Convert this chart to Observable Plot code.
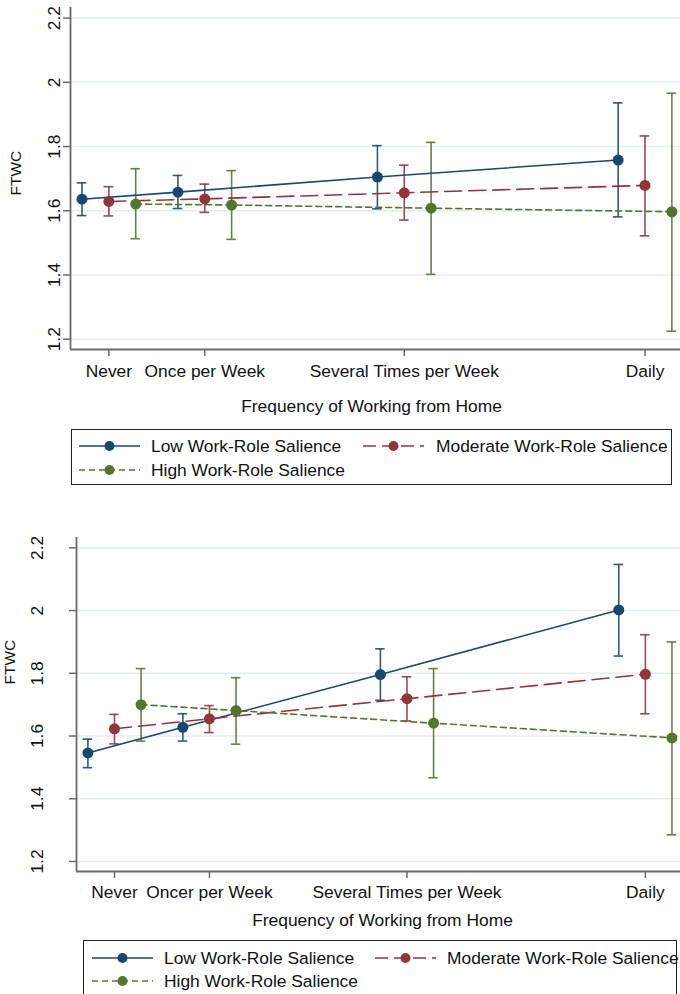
<!DOCTYPE html>
<html><head><meta charset="utf-8">
<script src="https://cdn.jsdelivr.net/npm/d3@7"></script>
<script src="https://cdn.jsdelivr.net/npm/@observablehq/plot@0.6"></script>
<style>
body{margin:0;background:#fff;font-family:"Liberation Sans",Arial,sans-serif;}
#wrap{position:relative;width:680px;height:994px;overflow:hidden;background:#fff;}
.panel{position:absolute;left:0;}
.legend{position:absolute;border:1px solid #222;box-sizing:border-box;font-size:17.4px;color:#111;}
.item{position:absolute;display:flex;align-items:center;white-space:nowrap;height:24px;}
</style></head>
<body><div id="wrap"></div>
<script>
// ---- data ----
const categoriesTop = ["Never", "Once per Week", "Several Times per Week", "Daily"];
const categoriesBottom = ["Never", "Oncer per Week", "Several Times per Week", "Daily"];
const categoryPos = [0, 1, 3.08, 5.59];
const seriesNames = ["Low Work-Role Salience", "Moderate Work-Role Salience", "High Work-Role Salience"];
const yTicks = [1.2, 1.4, 1.6, 1.8, 2, 2.2];
const xTitle = "Frequency of Working from Home";
const yTitle = "FTWC";

// Panel 1 (top)
const lowTop = [1.636, 1.658, 1.705, 1.758];
const lowTopLo = [1.585, 1.607, 1.606, 1.581];
const lowTopHi = [1.687, 1.710, 1.803, 1.936];
const modTop = [1.629, 1.637, 1.656, 1.679];
const modTopLo = [1.584, 1.595, 1.571, 1.522];
const modTopHi = [1.675, 1.683, 1.742, 1.833];
const highTop = [1.621, 1.618, 1.608, 1.597];
const highTopLo = [1.513, 1.511, 1.402, 1.225];
const highTopHi = [1.731, 1.725, 1.813, 1.966];

// Panel 2 (bottom)
const lowBot = [1.546, 1.628, 1.796, 2.002];
const lowBotLo = [1.499, 1.584, 1.714, 1.855];
const lowBotHi = [1.590, 1.671, 1.878, 2.147];
const modBot = [1.623, 1.655, 1.719, 1.797];
const modBotLo = [1.575, 1.611, 1.648, 1.671];
const modBotHi = [1.669, 1.697, 1.789, 1.923];
const highBot = [1.700, 1.681, 1.641, 1.594];
const highBotLo = [1.584, 1.574, 1.467, 1.285];
const highBotHi = [1.815, 1.786, 1.815, 1.900];

// ---- styles ----
const colors = ["#1a476f", "#90353b", "#55752f"];
const dashes = [null, "17,7", "6,4"];
const offsets = [-0.28, 0, 0.28];
const capHalf = 0.05;
const xDomain = [-0.4, 5.96];
const yDomain = [1.168, 2.233];
const gridColor = "#e4edf0";
const axisColor = "#6a6a6a";
const font = '"Liberation Sans", Arial, sans-serif';

function buildRows(vals, los, his) {
  return vals.map((v, si) => v.map((y, i) => ({
    s: si, x: categoryPos[i] + offsets[si], y, lo: los[si][i], hi: his[si][i]
  })));
}

function panel(o) {
  const rows = buildRows(o.vals, o.los, o.his);
  const labelOf = d => o.labels[categoryPos.indexOf(d)];
  const marks = [
    Plot.ruleY(yTicks, {stroke: gridColor, strokeWidth: 1.6}),
    Plot.axisX({ticks: categoryPos, tickFormat: labelOf, tickSize: 7, tickPadding: o.xPad,
      stroke: axisColor, strokeWidth: 1.5, label: null, fill: "#111"}),
    Plot.axisY({ticks: yTicks, tickFormat: d => String(d), tickRotate: -90, tickSize: 7,
      tickPadding: o.yPad, stroke: axisColor, strokeWidth: 1.5, label: null, fill: "#111"}),
    Plot.ruleX([xDomain[0]], {stroke: axisColor, strokeWidth: 1.8}),
    Plot.ruleY([yDomain[0]], {stroke: axisColor, strokeWidth: 1.8}),
    Plot.text([yTitle], {frameAnchor: "left", dx: o.ytDx, dy: o.ytDy, rotate: -90, fontSize: 15.5, fill: "#111"}),
    Plot.text([xTitle], {frameAnchor: "bottom", dx: o.xtDx, dy: o.xtDy, lineAnchor: "middle", fontSize: 17.4, fill: "#111"})
  ];
  rows.forEach((r, si) => {
    const c = colors[si];
    marks.push(Plot.ruleX(r, {x: "x", y1: "lo", y2: "hi", stroke: c, strokeWidth: 1.6, strokeOpacity: 0.9}));
    marks.push(Plot.ruleY(r, {y: "hi", x1: d => d.x - capHalf, x2: d => d.x + capHalf, stroke: c, strokeWidth: 1.6, strokeOpacity: 0.9}));
    marks.push(Plot.ruleY(r, {y: "lo", x1: d => d.x - capHalf, x2: d => d.x + capHalf, stroke: c, strokeWidth: 1.6, strokeOpacity: 0.9}));
  });
  rows.forEach((r, si) => {
    const opt = {x: "x", y: "y", stroke: colors[si], strokeWidth: 1.6};
    if (dashes[si]) opt.strokeDasharray = dashes[si];
    marks.push(Plot.line(r, opt));
  });
  rows.forEach((r, si) => {
    marks.push(Plot.dot(r, {x: "x", y: "y", r: 5.5, fill: colors[si], stroke: "none"}));
  });
  return Plot.plot({
    width: 680, height: o.height,
    marginLeft: o.marginLeft, marginRight: 0, marginTop: o.marginTop, marginBottom: o.marginBottom,
    style: {fontFamily: font, fontSize: "17.4px", color: "#111", background: "white"},
    x: {domain: xDomain}, y: {domain: yDomain},
    marks
  });
}

function legend(o) {
  const box = document.createElement("div");
  box.className = "legend";
  Object.assign(box.style, {left: o.left + "px", top: o.top + "px", width: o.width + "px", height: o.height + "px"});
  o.items.forEach(it => {
    const si = it.s;
    const div = document.createElement("div");
    div.className = "item";
    div.style.left = it.x + "px";
    div.style.top = (it.row - 12) + "px";
    const w = 61;
    const dash = dashes[si] ? (si === 1 ? "13,6" : "6,4") : null;
    div.innerHTML = `<svg width="${w}" height="24" style="flex:none">
      <line x1="0" x2="${w}" y1="12" y2="12" stroke="${colors[si]}" stroke-width="1.6" ${dash ? `stroke-dasharray="${dash}"` : ""}/>
      <circle cx="${w/2}" cy="12" r="5" fill="${colors[si]}"/></svg>
      <span style="margin-left:${it.gap}px">${seriesNames[si]}</span>`;
    box.appendChild(div);
  });
  return box;
}

const wrap = document.getElementById("wrap");

const p1 = panel({
  vals: [lowTop, modTop, highTop], los: [lowTopLo, modTopLo, highTopLo], his: [lowTopHi, modTopHi, highTopHi],
  labels: categoriesTop, height: 420, marginLeft: 70, marginTop: 7, marginBottom: 71,
  xPad: 8, yPad: 4, ytDx: -54.5, ytDy: 17, xtDx: -4, xtDy: 57
});
p1.classList.add("panel"); p1.style.top = "0px";
wrap.appendChild(p1);

wrap.appendChild(legend({left: 71, top: 429, width: 601, height: 56, items: [
  {s: 0, x: 7, row: 16, gap: 11},
  {s: 1, x: 291, row: 16, gap: 12},
  {s: 2, x: 7, row: 40, gap: 11}
]}));

const p2 = panel({
  vals: [lowBot, modBot, highBot], los: [lowBotLo, modBotLo, highBotLo], his: [lowBotHi, modBotHi, highBotHi],
  labels: categoriesBottom, height: 430, marginLeft: 76, marginTop: 37, marginBottom: 59,
  xPad: 7, yPad: 27, ytDx: -66, ytDy: -20, xtDx: 4, xtDy: 49
});
p2.classList.add("panel"); p2.style.top = "500px";
wrap.appendChild(p2);

wrap.appendChild(legend({left: 83, top: 940, width: 594, height: 70, items: [
  {s: 0, x: 8, row: 17, gap: 11},
  {s: 1, x: 291, row: 17, gap: 11},
  {s: 2, x: 8, row: 40, gap: 11}
]}));
</script>
</body></html>
